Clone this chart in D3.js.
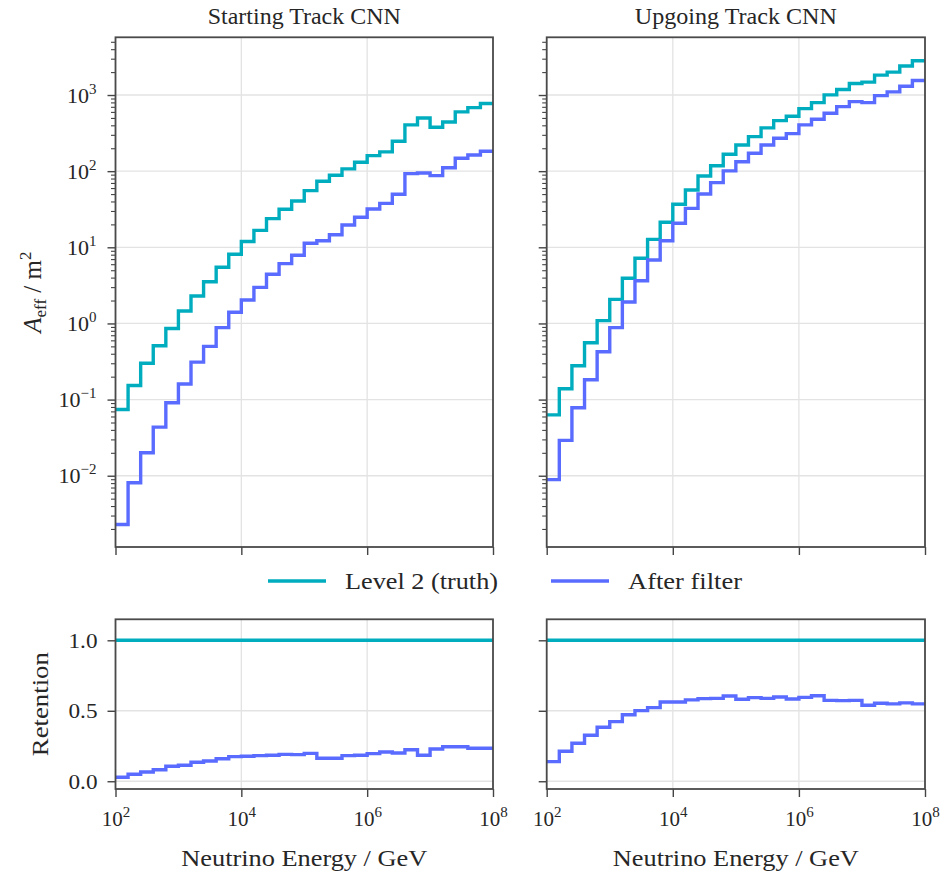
<!DOCTYPE html>
<html><head><meta charset="utf-8">
<script src="https://cdn.jsdelivr.net/npm/d3@7"></script>
<style>
body{margin:0;background:#fff}
text{font-family:"Liberation Serif","DejaVu Serif",serif;fill:#262626}
</style>
</head><body>
<svg id="c" width="945" height="873"></svg>
<script>
// ---------- data ----------
const panelTitles = ["Starting Track CNN", "Upgoing Track CNN"];
const seriesNames = ["Level 2 (truth)", "After filter"];
// log10 of bin edges (GeV)
const edgeExponents = [2.0,2.2,2.4,2.6,2.8,3.0,3.2,3.4,3.6,3.8,4.0,4.2,4.4,4.6,4.8,5.0,5.2,5.4,5.6,5.8,6.0,6.2,6.4,6.6,6.8,7.0,7.2,7.4,7.6,7.8,8.0];
const xTickExponents = [2,4,6,8];
const yTopTickExponents = [-2,-1,0,1,2,3];
const yBotTicks = [0.0,0.5,1.0];
const yBotTickLabels = ["0.0","0.5","1.0"];

const startTruth  = [0.074,0.153,0.30,0.51,0.86,1.46,2.29,3.53,5.46,8.1,11.9,16.7,23.8,31.6,40.6,55.5,73.7,88.3,107,131,160,179,247,405,500,378,443,600,684,772];
const startFilter = [0.00229,0.00807,0.020,0.0435,0.091,0.16,0.31,0.50,0.88,1.40,2.03,2.98,4.42,6.1,7.86,11.3,12.2,14.6,19.6,24.8,31.8,37.8,49.7,92.7,94.7,87.3,111,148,163,183];
const upTruth     = [0.063,0.139,0.278,0.557,1.09,2.07,3.92,7.17,12.7,21.3,36.7,56.6,86.5,118,167,221,284,370,461,527,663,795,1004,1180,1416,1476,1825,2000,2400,2820];
const upFilter    = [0.0089,0.0291,0.078,0.182,0.425,0.88,1.91,3.64,6.8,12.2,20.7,32.5,50.1,70.6,101,133,172,221,270,311,405,481,577,705,820,795,982,1099,1306,1549];

const truthRetention = [1,1,1,1,1,1,1,1,1,1,1,1,1,1,1,1,1,1,1,1,1,1,1,1,1,1,1,1,1,1];
const startRetention = [0.028,0.050,0.066,0.082,0.106,0.113,0.135,0.144,0.160,0.175,0.177,0.182,0.184,0.191,0.189,0.198,0.163,0.163,0.182,0.184,0.196,0.208,0.200,0.224,0.184,0.229,0.245,0.245,0.234,0.234];
const upRetention    = [0.139,0.213,0.270,0.326,0.383,0.423,0.472,0.501,0.522,0.562,0.562,0.577,0.586,0.588,0.605,0.582,0.593,0.588,0.598,0.584,0.595,0.607,0.574,0.572,0.574,0.539,0.553,0.549,0.556,0.549];

const colors = ["#00adbf", "#5a6cff"];

// ---------- layout ----------
const svg = d3.select("#c");
const cols = [{x0:115.5, x1:493}, {x0:546.7, x1:925}];
const topY = {y0:37.3, y1:547};
const botY = {y0:619.3, y1:789};
const spineColor = "#4a4a4a";
const gridColor = "#e3e3e3";

const edges = edgeExponents.map(e => Math.pow(10, e));
const yTop = d3.scaleLog().domain([Math.pow(10,-2.936), Math.pow(10,3.758)]).range([topY.y1, topY.y0]);
const yBot = d3.scaleLinear().domain([-0.055, 1.149]).range([botY.y1, botY.y0]);

const topData = [[startTruth, startFilter], [upTruth, upFilter]];
const botData = [[truthRetention, startRetention], [truthRetention, upRetention]];

function stepPoints(vals){
  const pts = vals.map((v,i) => [edges[i], v]);
  pts.push([edges[edges.length-1], vals[vals.length-1]]);
  return pts;
}

function supLabel(sel, base, exp){
  sel.text(null);
  sel.append("tspan").text(base);
  sel.append("tspan").attr("dy", -9).attr("font-size", 15).text(exp);
}

function styleAxis(g){
  g.select(".domain").remove();
  g.selectAll(".tick line").attr("stroke", "#444").attr("stroke-width", 1.4);
}

cols.forEach((c, ci) => {
  const x = d3.scaleLog().domain([1e2, 1e8]).range([c.x0, c.x1]);
  const xTicks = xTickExponents.map(e => Math.pow(10, e));

  [["top", topY, yTop, topData[ci]], ["bot", botY, yBot, botData[ci]]].forEach(([kind, yr, y, series]) => {
    const g = svg.append("g");
    const cid = "clip"+kind+ci;
    svg.append("clipPath").attr("id", cid).append("rect")
      .attr("x", c.x0).attr("y", yr.y0).attr("width", c.x1-c.x0).attr("height", yr.y1-yr.y0);

    // grid
    const yGridVals = kind === "top" ? yTopTickExponents.map(e => Math.pow(10,e)) : yBotTicks;
    g.append("g").selectAll("line").data(xTicks).join("line")
      .attr("x1", d => x(d)).attr("x2", d => x(d)).attr("y1", yr.y0).attr("y2", yr.y1)
      .attr("stroke", gridColor).attr("stroke-width", 1.3);
    g.append("g").selectAll("line").data(yGridVals).join("line")
      .attr("x1", c.x0).attr("x2", c.x1).attr("y1", d => y(d)).attr("y2", d => y(d))
      .attr("stroke", gridColor).attr("stroke-width", 1.3);

    // step lines
    const line = d3.line().x(d => x(d[0])).y(d => y(d[1])).curve(d3.curveStepAfter);
    const lg = g.append("g").attr("clip-path", `url(#${cid})`);
    series.forEach((vals, si) => {
      lg.append("path").attr("d", line(stepPoints(vals)))
        .attr("fill", "none").attr("stroke", colors[si]).attr("stroke-width", 3.4)
        .attr("stroke-linejoin", "miter").attr("stroke-linecap", "butt");
    });

    // x axis
    const xa = d3.axisBottom(x).tickValues(xTicks).tickSize(8).tickPadding(14).tickFormat(() => "");
    const gx = g.append("g").attr("transform", `translate(0,${yr.y1})`).call(xa);
    styleAxis(gx);
    gx.selectAll(".tick text").attr("font-size", 21).attr("fill", "#262626");
    if (kind === "bot") {
      gx.selectAll(".tick text").each(function(d){ supLabel(d3.select(this), "10", String(Math.round(Math.log10(d)))); });
    }

    // y axis
    if (kind === "top") {
      const minor = [];
      for (let e = -3; e <= 3; e++) for (let m = 2; m <= 9; m++) {
        const v = m*Math.pow(10,e);
        if (v >= yTop.domain()[0] && v <= yTop.domain()[1]) minor.push(v);
      }
      const gm = g.append("g").attr("transform", `translate(${c.x0},0)`)
        .call(d3.axisLeft(y).tickValues(minor).tickSize(4.5).tickFormat(() => ""));
      styleAxis(gm);
      gm.selectAll(".tick line").attr("stroke-width", 1.1);
      const gy = g.append("g").attr("transform", `translate(${c.x0},0)`)
        .call(d3.axisLeft(y).tickValues(yGridVals).tickSize(8).tickPadding(11).tickFormat(() => ""));
      styleAxis(gy);
      gy.selectAll(".tick text").attr("font-size", 22).attr("fill", "#262626");
      if (ci === 0) gy.selectAll(".tick text").each(function(d){ supLabel(d3.select(this), "10", String(Math.round(Math.log10(d))).replace("-", "\u2212")); });
    } else {
      const gy = g.append("g").attr("transform", `translate(${c.x0},0)`)
        .call(d3.axisLeft(y).tickValues(yBotTicks).tickSize(8).tickPadding(10)
          .tickFormat((d,i) => ci === 0 ? yBotTickLabels[i] : ""));
      styleAxis(gy);
      gy.selectAll(".tick text").attr("font-size", 22).attr("fill", "#262626")
        .attr("textLength", ci === 0 ? 29 : null).attr("lengthAdjust", "spacingAndGlyphs");
    }

    // spines
    g.append("rect").attr("x", c.x0).attr("y", yr.y0).attr("width", c.x1-c.x0).attr("height", yr.y1-yr.y0)
      .attr("fill", "none").attr("stroke", spineColor).attr("stroke-width", 1.8);
  });

  // title
  svg.append("text").attr("x", (c.x0+c.x1)/2).attr("y", 24).attr("text-anchor", "middle")
    .attr("font-size", 22.5).attr("textLength", ci === 0 ? 193 : 202).attr("lengthAdjust", "spacingAndGlyphs")
    .text(panelTitles[ci]);
  // x label
  svg.append("text").attr("x", (c.x0+c.x1)/2).attr("y", 866).attr("text-anchor", "middle")
    .attr("font-size", 23).attr("textLength", 246).attr("lengthAdjust", "spacingAndGlyphs")
    .text("Neutrino Energy / GeV");
});

// y labels
const yl = svg.append("text").attr("transform", `translate(41,${(topY.y0+topY.y1)/2}) rotate(-90)`)
  .attr("text-anchor", "middle").attr("font-size", 25);
yl.append("tspan").attr("font-style", "italic").text("A");
yl.append("tspan").attr("dy", 5).attr("font-size", 17).text("eff");
yl.append("tspan").attr("dy", -5).text(" / m");
yl.append("tspan").attr("dy", -10).attr("font-size", 17).text("2");

svg.append("text").attr("transform", `translate(48,${(botY.y0+botY.y1)/2}) rotate(-90)`)
  .attr("text-anchor", "middle").attr("font-size", 23).attr("textLength", 104).attr("lengthAdjust", "spacingAndGlyphs")
  .text("Retention");

// legend
const legendItems = [{x:268, tx:345, w:153}, {x:551, tx:628, w:114}];
legendItems.forEach((li, i) => {
  svg.append("line").attr("x1", li.x).attr("x2", li.x+58).attr("y1", 581).attr("y2", 581)
    .attr("stroke", colors[i]).attr("stroke-width", 3.4);
  svg.append("text").attr("x", li.tx).attr("y", 589).attr("font-size", 23)
    .attr("textLength", li.w).attr("lengthAdjust", "spacingAndGlyphs").text(seriesNames[i]);
});
</script>
</body></html>
